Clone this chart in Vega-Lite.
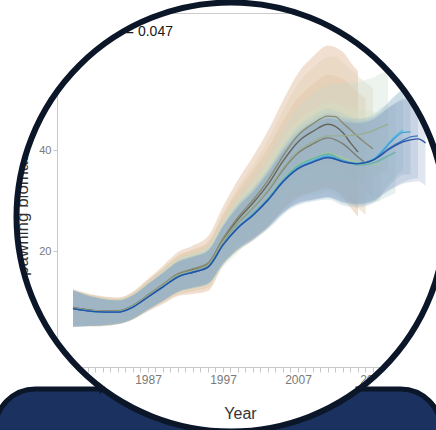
{
  "$schema": "https://vega.github.io/schema/vega-lite/v6.json",
  "width": 379,
  "height": 354,
  "autosize": {"type": "none"},
  "padding": {"left": 57, "top": 13, "right": 0, "bottom": 63},
  "background": "white",
  "config": {
    "view": {"stroke": "#cccccc", "strokeWidth": 1},
    "font": "Liberation Sans Narrow, Liberation Sans, sans-serif"
  },
  "datasets": {
    "ret": [
      {"p":"2015","yr":1977,"v":8.8,"lo":5.2,"hi":12.4},{"p":"2015","yr":1980,"v":8.2,"lo":5.1,"hi":11.3},{"p":"2015","yr":1983,"v":8.1,"lo":5.5,"hi":10.8},{"p":"2015","yr":1985,"v":9.2,"lo":6.4,"hi":12.0},{"p":"2015","yr":1987,"v":11.2,"lo":8.0,"hi":14.5},{"p":"2015","yr":1989,"v":13.3,"lo":9.5,"hi":17.1},{"p":"2015","yr":1991,"v":15.4,"lo":11.1,"hi":19.8},{"p":"2015","yr":1993,"v":16.3,"lo":11.5,"hi":21.1},{"p":"2015","yr":1995,"v":17.5,"lo":12.1,"hi":22.9},{"p":"2015","yr":1997,"v":22.3,"lo":17.1,"hi":28.8},{"p":"2015","yr":1999,"v":26.3,"lo":20.1,"hi":34.1},{"p":"2015","yr":2001,"v":29.5,"lo":22.1,"hi":38.7},{"p":"2015","yr":2003,"v":33.2,"lo":24.7,"hi":43.8},{"p":"2015","yr":2005,"v":37.8,"lo":28.2,"hi":49.8},{"p":"2015","yr":2007,"v":41.6,"lo":30.7,"hi":55.2},{"p":"2015","yr":2009,"v":43.7,"lo":31.9,"hi":58.5},{"p":"2015","yr":2011,"v":45.1,"lo":32.6,"hi":60.7},{"p":"2015","yr":2013,"v":43.4,"lo":30.6,"hi":59.4},{"p":"2015","yr":2014,"v":41.4,"lo":28.6,"hi":57.4},{"p":"2015","yr":2015,"v":39.6,"lo":26.8,"hi":55.6},
      {"p":"2016","yr":1977,"v":8.7,"lo":5.1,"hi":12.3},{"p":"2016","yr":1980,"v":8.1,"lo":5.1,"hi":11.1},{"p":"2016","yr":1983,"v":8.0,"lo":5.5,"hi":10.5},{"p":"2016","yr":1985,"v":9.1,"lo":6.5,"hi":11.7},{"p":"2016","yr":1987,"v":11.1,"lo":8.2,"hi":14.1},{"p":"2016","yr":1989,"v":13.1,"lo":9.8,"hi":16.5},{"p":"2016","yr":1991,"v":15.2,"lo":11.4,"hi":19.0},{"p":"2016","yr":1993,"v":16.1,"lo":12.0,"hi":20.2},{"p":"2016","yr":1995,"v":17.2,"lo":12.7,"hi":21.7},{"p":"2016","yr":1997,"v":21.8,"lo":17.5,"hi":27.1},{"p":"2016","yr":1999,"v":25.6,"lo":20.6,"hi":31.9},{"p":"2016","yr":2001,"v":28.5,"lo":22.6,"hi":35.9},{"p":"2016","yr":2003,"v":31.9,"lo":25.1,"hi":40.4},{"p":"2016","yr":2005,"v":36.1,"lo":28.4,"hi":45.7},{"p":"2016","yr":2007,"v":39.4,"lo":30.7,"hi":50.3},{"p":"2016","yr":2009,"v":41.2,"lo":31.7,"hi":53.0},{"p":"2016","yr":2011,"v":42.4,"lo":32.4,"hi":54.9},{"p":"2016","yr":2013,"v":41.2,"lo":31.0,"hi":54.0},{"p":"2016","yr":2015,"v":38.6,"lo":28.4,"hi":51.4},{"p":"2016","yr":2016,"v":37.4,"lo":27.2,"hi":50.2},
      {"p":"2017","yr":1977,"v":8.9,"lo":5.3,"hi":12.5},{"p":"2017","yr":1980,"v":8.2,"lo":5.3,"hi":11.1},{"p":"2017","yr":1983,"v":8.2,"lo":5.7,"hi":10.7},{"p":"2017","yr":1985,"v":9.2,"lo":6.7,"hi":11.7},{"p":"2017","yr":1987,"v":11.3,"lo":8.4,"hi":14.2},{"p":"2017","yr":1989,"v":13.4,"lo":10.2,"hi":16.6},{"p":"2017","yr":1991,"v":15.5,"lo":11.9,"hi":19.1},{"p":"2017","yr":1993,"v":16.5,"lo":12.6,"hi":20.4},{"p":"2017","yr":1995,"v":17.6,"lo":13.3,"hi":21.9},{"p":"2017","yr":1997,"v":22.5,"lo":18.5,"hi":27.5},{"p":"2017","yr":1999,"v":26.7,"lo":21.9,"hi":32.7},{"p":"2017","yr":2001,"v":30.1,"lo":24.6,"hi":37.0},{"p":"2017","yr":2003,"v":34.0,"lo":27.6,"hi":42.0},{"p":"2017","yr":2005,"v":38.8,"lo":31.6,"hi":47.8},{"p":"2017","yr":2007,"v":42.9,"lo":34.7,"hi":53.1},{"p":"2017","yr":2009,"v":45.2,"lo":36.3,"hi":56.3},{"p":"2017","yr":2011,"v":46.7,"lo":37.3,"hi":58.4},{"p":"2017","yr":2012,"v":46.6,"lo":37.1,"hi":58.5},{"p":"2017","yr":2013,"v":45.3,"lo":35.7,"hi":57.3},{"p":"2017","yr":2014,"v":44.0,"lo":34.4,"hi":56.0},{"p":"2017","yr":2015,"v":42.6,"lo":33.0,"hi":54.6},{"p":"2017","yr":2016,"v":41.4,"lo":31.8,"hi":53.4},{"p":"2017","yr":2017,"v":40.2,"lo":30.6,"hi":52.2},
      {"p":"2018","yr":1977,"v":8.6,"lo":5.0,"hi":12.2},{"p":"2018","yr":1980,"v":8.0,"lo":5.1,"hi":10.9},{"p":"2018","yr":1983,"v":7.9,"lo":5.5,"hi":10.3},{"p":"2018","yr":1985,"v":8.9,"lo":6.5,"hi":11.3},{"p":"2018","yr":1987,"v":10.9,"lo":8.2,"hi":13.6},{"p":"2018","yr":1989,"v":13.0,"lo":10.0,"hi":16.0},{"p":"2018","yr":1991,"v":15.0,"lo":11.7,"hi":18.3},{"p":"2018","yr":1993,"v":15.9,"lo":12.4,"hi":19.4},{"p":"2018","yr":1995,"v":16.9,"lo":13.0,"hi":20.8},{"p":"2018","yr":1997,"v":21.3,"lo":16.8,"hi":25.8},{"p":"2018","yr":1999,"v":24.8,"lo":19.6,"hi":30.0},{"p":"2018","yr":2001,"v":27.4,"lo":23.2,"hi":33.4},{"p":"2018","yr":2003,"v":30.5,"lo":25.7,"hi":37.4},{"p":"2018","yr":2005,"v":34.3,"lo":28.8,"hi":42.1},{"p":"2018","yr":2007,"v":37.0,"lo":30.8,"hi":45.8},{"p":"2018","yr":2009,"v":38.4,"lo":31.7,"hi":48.0},{"p":"2018","yr":2011,"v":39.4,"lo":32.3,"hi":49.5},{"p":"2018","yr":2013,"v":38.4,"lo":31.1,"hi":48.8},{"p":"2018","yr":2015,"v":37.6,"lo":30.3,"hi":48.0},{"p":"2018","yr":2017,"v":37.2,"lo":29.9,"hi":47.6},{"p":"2018","yr":2018,"v":37.0,"lo":29.7,"hi":47.4},
      {"p":"2019","yr":1977,"v":8.7,"lo":5.6,"hi":12.3},{"p":"2019","yr":1980,"v":8.1,"lo":5.7,"hi":11.0},{"p":"2019","yr":1983,"v":8.0,"lo":6.0,"hi":10.4},{"p":"2019","yr":1985,"v":9.1,"lo":7.0,"hi":11.5},{"p":"2019","yr":1987,"v":11.1,"lo":8.8,"hi":13.8},{"p":"2019","yr":1989,"v":13.2,"lo":10.6,"hi":16.2},{"p":"2019","yr":1991,"v":15.2,"lo":12.4,"hi":18.5},{"p":"2019","yr":1993,"v":16.1,"lo":13.1,"hi":19.6},{"p":"2019","yr":1995,"v":17.2,"lo":13.9,"hi":21.1},{"p":"2019","yr":1997,"v":21.9,"lo":18.1,"hi":26.4},{"p":"2019","yr":1999,"v":25.7,"lo":21.3,"hi":30.9},{"p":"2019","yr":2001,"v":28.6,"lo":23.5,"hi":34.6},{"p":"2019","yr":2003,"v":32.1,"lo":26.2,"hi":39.0},{"p":"2019","yr":2005,"v":36.4,"lo":29.8,"hi":44.2},{"p":"2019","yr":2007,"v":39.7,"lo":32.2,"hi":48.5},{"p":"2019","yr":2009,"v":41.6,"lo":33.4,"hi":51.2},{"p":"2019","yr":2011,"v":42.8,"lo":34.2,"hi":52.9},{"p":"2019","yr":2013,"v":42.8,"lo":34.0,"hi":53.2},{"p":"2019","yr":2015,"v":43.0,"lo":34.2,"hi":53.4},{"p":"2019","yr":2016,"v":43.4,"lo":34.5,"hi":53.9},{"p":"2019","yr":2017,"v":43.8,"lo":34.9,"hi":54.3},{"p":"2019","yr":2018,"v":44.5,"lo":35.5,"hi":55.1},{"p":"2019","yr":2019,"v":45.1,"lo":36.0,"hi":55.8},
      {"p":"2020","yr":1977,"v":8.6,"lo":5.0,"hi":12.2},{"p":"2020","yr":1980,"v":8.0,"lo":5.2,"hi":10.8},{"p":"2020","yr":1983,"v":7.9,"lo":5.6,"hi":10.3},{"p":"2020","yr":1985,"v":8.9,"lo":6.5,"hi":11.3},{"p":"2020","yr":1987,"v":10.9,"lo":8.3,"hi":13.5},{"p":"2020","yr":1989,"v":12.9,"lo":10.0,"hi":15.8},{"p":"2020","yr":1991,"v":15.0,"lo":11.9,"hi":18.1},{"p":"2020","yr":1993,"v":15.9,"lo":12.6,"hi":19.2},{"p":"2020","yr":1995,"v":16.9,"lo":13.4,"hi":20.4},{"p":"2020","yr":1997,"v":21.3,"lo":17.3,"hi":25.3},{"p":"2020","yr":1999,"v":24.8,"lo":20.1,"hi":29.5},{"p":"2020","yr":2001,"v":27.4,"lo":22.1,"hi":32.7},{"p":"2020","yr":2003,"v":30.4,"lo":24.3,"hi":36.5},{"p":"2020","yr":2005,"v":34.1,"lo":27.2,"hi":41.0},{"p":"2020","yr":2007,"v":36.9,"lo":30.3,"hi":44.7},{"p":"2020","yr":2009,"v":38.3,"lo":31.1,"hi":46.8},{"p":"2020","yr":2011,"v":39.2,"lo":31.6,"hi":48.2},{"p":"2020","yr":2013,"v":38.0,"lo":30.2,"hi":47.2},{"p":"2020","yr":2015,"v":37.0,"lo":29.2,"hi":46.2},{"p":"2020","yr":2017,"v":37.4,"lo":29.6,"hi":46.6},{"p":"2020","yr":2019,"v":38.8,"lo":30.8,"hi":48.2},{"p":"2020","yr":2020,"v":39.6,"lo":31.5,"hi":49.1},
      {"p":"2021","yr":1977,"v":8.6,"lo":5.0,"hi":12.2},{"p":"2021","yr":1980,"v":8.0,"lo":5.2,"hi":10.8},{"p":"2021","yr":1983,"v":7.9,"lo":5.6,"hi":10.2},{"p":"2021","yr":1985,"v":8.9,"lo":6.6,"hi":11.3},{"p":"2021","yr":1987,"v":10.9,"lo":8.3,"hi":13.5},{"p":"2021","yr":1989,"v":12.9,"lo":10.1,"hi":15.7},{"p":"2021","yr":1991,"v":14.9,"lo":11.9,"hi":18.0},{"p":"2021","yr":1993,"v":15.8,"lo":12.6,"hi":19.0},{"p":"2021","yr":1995,"v":16.8,"lo":13.4,"hi":20.2},{"p":"2021","yr":1997,"v":21.2,"lo":17.3,"hi":25.1},{"p":"2021","yr":1999,"v":24.7,"lo":20.2,"hi":29.2},{"p":"2021","yr":2001,"v":27.2,"lo":22.1,"hi":32.3},{"p":"2021","yr":2003,"v":30.2,"lo":24.4,"hi":36.0},{"p":"2021","yr":2005,"v":33.9,"lo":27.3,"hi":40.5},{"p":"2021","yr":2007,"v":36.5,"lo":29.0,"hi":44.0},{"p":"2021","yr":2009,"v":37.9,"lo":29.8,"hi":46.0},{"p":"2021","yr":2011,"v":38.8,"lo":30.2,"hi":47.4},{"p":"2021","yr":2013,"v":37.8,"lo":29.0,"hi":46.6},{"p":"2021","yr":2015,"v":37.4,"lo":28.6,"hi":46.2},{"p":"2021","yr":2017,"v":38.2,"lo":29.4,"hi":47.0},{"p":"2021","yr":2018,"v":39.5,"lo":30.8,"hi":48.2},{"p":"2021","yr":2019,"v":41.2,"lo":33.2,"hi":49.2},{"p":"2021","yr":2020,"v":42.8,"lo":34.8,"hi":50.8},{"p":"2021","yr":2021,"v":44.0,"lo":36.0,"hi":52.0},
      {"p":"2022","yr":1977,"v":8.6,"lo":5.0,"hi":12.2},{"p":"2022","yr":1980,"v":8.0,"lo":5.2,"hi":10.8},{"p":"2022","yr":1983,"v":7.9,"lo":5.6,"hi":10.2},{"p":"2022","yr":1985,"v":8.9,"lo":6.6,"hi":11.2},{"p":"2022","yr":1987,"v":10.9,"lo":8.4,"hi":13.4},{"p":"2022","yr":1989,"v":12.9,"lo":10.2,"hi":15.7},{"p":"2022","yr":1991,"v":14.9,"lo":11.9,"hi":17.9},{"p":"2022","yr":1993,"v":15.8,"lo":12.7,"hi":18.9},{"p":"2022","yr":1995,"v":16.8,"lo":13.5,"hi":20.1},{"p":"2022","yr":1997,"v":21.2,"lo":17.5,"hi":24.9},{"p":"2022","yr":1999,"v":24.7,"lo":20.4,"hi":29.0},{"p":"2022","yr":2001,"v":27.2,"lo":22.4,"hi":32.0},{"p":"2022","yr":2003,"v":30.2,"lo":24.6,"hi":35.8},{"p":"2022","yr":2005,"v":33.8,"lo":27.5,"hi":40.1},{"p":"2022","yr":2007,"v":36.4,"lo":29.3,"hi":43.5},{"p":"2022","yr":2009,"v":37.8,"lo":30.0,"hi":45.6},{"p":"2022","yr":2011,"v":38.7,"lo":30.5,"hi":46.9},{"p":"2022","yr":2013,"v":37.8,"lo":29.4,"hi":46.2},{"p":"2022","yr":2015,"v":37.3,"lo":28.9,"hi":45.7},{"p":"2022","yr":2017,"v":38.0,"lo":29.6,"hi":46.4},{"p":"2022","yr":2018,"v":39.3,"lo":30.9,"hi":47.7},{"p":"2022","yr":2019,"v":41.0,"lo":32.6,"hi":49.4},{"p":"2022","yr":2020,"v":42.5,"lo":34.1,"hi":50.9},{"p":"2022","yr":2021,"v":43.5,"lo":35.1,"hi":51.9},{"p":"2022","yr":2022,"v":43.6,"lo":35.2,"hi":52.0},
      {"p":"2023","yr":1977,"v":8.6,"lo":5.0,"hi":12.2},{"p":"2023","yr":1980,"v":8.0,"lo":5.2,"hi":10.8},{"p":"2023","yr":1983,"v":7.9,"lo":5.6,"hi":10.2},{"p":"2023","yr":1985,"v":8.9,"lo":6.6,"hi":11.2},{"p":"2023","yr":1987,"v":10.9,"lo":8.4,"hi":13.4},{"p":"2023","yr":1989,"v":12.9,"lo":10.2,"hi":15.6},{"p":"2023","yr":1991,"v":14.9,"lo":12.0,"hi":17.8},{"p":"2023","yr":1993,"v":15.8,"lo":12.8,"hi":18.8},{"p":"2023","yr":1995,"v":16.8,"lo":13.6,"hi":20.0},{"p":"2023","yr":1997,"v":21.2,"lo":17.6,"hi":24.8},{"p":"2023","yr":1999,"v":24.6,"lo":20.5,"hi":28.7},{"p":"2023","yr":2001,"v":27.1,"lo":22.5,"hi":31.7},{"p":"2023","yr":2003,"v":30.1,"lo":24.8,"hi":35.4},{"p":"2023","yr":2005,"v":33.7,"lo":27.7,"hi":39.7},{"p":"2023","yr":2007,"v":36.3,"lo":29.5,"hi":43.1},{"p":"2023","yr":2009,"v":37.6,"lo":30.2,"hi":45.0},{"p":"2023","yr":2011,"v":38.5,"lo":30.7,"hi":46.3},{"p":"2023","yr":2013,"v":37.7,"lo":29.7,"hi":45.7},{"p":"2023","yr":2015,"v":37.3,"lo":29.3,"hi":45.3},{"p":"2023","yr":2017,"v":38.0,"lo":30.0,"hi":46.0},{"p":"2023","yr":2019,"v":40.2,"lo":32.0,"hi":48.4},{"p":"2023","yr":2021,"v":41.9,"lo":33.6,"hi":50.2},{"p":"2023","yr":2022,"v":42.6,"lo":34.2,"hi":51.0},{"p":"2023","yr":2023,"v":42.8,"lo":34.4,"hi":51.2},
      {"p":"2024","yr":1977,"v":8.6,"lo":5.0,"hi":12.2},{"p":"2024","yr":1980,"v":8.0,"lo":5.2,"hi":10.8},{"p":"2024","yr":1983,"v":7.9,"lo":5.6,"hi":10.2},{"p":"2024","yr":1985,"v":8.9,"lo":6.6,"hi":11.2},{"p":"2024","yr":1987,"v":10.9,"lo":8.4,"hi":13.4},{"p":"2024","yr":1989,"v":12.9,"lo":10.2,"hi":15.6},{"p":"2024","yr":1991,"v":14.9,"lo":12.0,"hi":17.8},{"p":"2024","yr":1993,"v":15.8,"lo":12.8,"hi":18.8},{"p":"2024","yr":1995,"v":16.8,"lo":13.6,"hi":20.0},{"p":"2024","yr":1997,"v":21.2,"lo":17.6,"hi":24.8},{"p":"2024","yr":1999,"v":24.6,"lo":20.5,"hi":28.7},{"p":"2024","yr":2001,"v":27.1,"lo":22.5,"hi":31.7},{"p":"2024","yr":2003,"v":30.1,"lo":24.8,"hi":35.4},{"p":"2024","yr":2005,"v":33.7,"lo":27.7,"hi":39.7},{"p":"2024","yr":2007,"v":36.3,"lo":29.5,"hi":43.1},{"p":"2024","yr":2009,"v":37.6,"lo":30.2,"hi":45.0},{"p":"2024","yr":2011,"v":38.5,"lo":30.7,"hi":46.3},{"p":"2024","yr":2012,"v":38.2,"lo":30.3,"hi":46.1},{"p":"2024","yr":2013,"v":37.7,"lo":29.7,"hi":45.7},{"p":"2024","yr":2014,"v":37.4,"lo":29.4,"hi":45.4},{"p":"2024","yr":2015,"v":37.3,"lo":29.3,"hi":45.3},{"p":"2024","yr":2016,"v":37.5,"lo":29.5,"hi":45.5},{"p":"2024","yr":2017,"v":38.0,"lo":30.0,"hi":46.0},{"p":"2024","yr":2018,"v":38.9,"lo":30.8,"hi":47.0},{"p":"2024","yr":2019,"v":40.0,"lo":31.8,"hi":48.2},{"p":"2024","yr":2020,"v":40.9,"lo":32.6,"hi":49.2},{"p":"2024","yr":2021,"v":41.6,"lo":33.3,"hi":49.9},{"p":"2024","yr":2022,"v":42.0,"lo":33.6,"hi":50.4},{"p":"2024","yr":2023,"v":42.2,"lo":33.8,"hi":50.6},{"p":"2024","yr":2024,"v":41.4,"lo":32.9,"hi":49.9}
    ]
  },
  "layer": [
    {
      "data": {"name": "ret"},
      "mark": {"type": "area", "interpolate": "monotone"},
      "encoding": {
        "x": {
          "field": "yr", "type": "quantitative",
          "scale": {"domain": [1974.867, 2025.4], "nice": false, "zero": false},
          "axis": {
            "title": "Year",
            "values": [1975,1976,1977,1978,1979,1980,1981,1982,1983,1984,1985,1986,1987,1988,1989,1990,1991,1992,1993,1994,1995,1996,1997,1998,1999,2000,2001,2002,2003,2004,2005,2006,2007,2008,2009,2010,2011,2012,2013,2014,2015,2016,2017,2018,2019,2020,2021,2022,2023,2024,2025],
            "tickCount": 200,
            "format": "d",
            "labelExpr": "(datum.value - 1977) % 10 == 0 ? datum.label : ''",
            "grid": false,
            "domainColor": "#c8c8c8",
            "tickColor": "#c8c8c8",
            "tickSize": 5,
            "labelColor": "#7a7a7a",
            "labelFontSize": 12,
            "labelPadding": 2,
            "labelFlush": false,
            "labelOverlap": false,
            "titleFontSize": 16,
            "titleFontWeight": "normal",
            "titleColor": "#333333",
            "titleX": 183,
            "titleY": 46,
            "titleBaseline": "middle"
          }
        },
        "y": {
          "field": "lo", "type": "quantitative",
          "scale": {"domain": [-2.97, 67.13], "nice": false, "zero": false},
          "axis": {
            "title": "Spawning biomass (t)",
            "values": [0, 20, 40, 60],
            "grid": false,
            "domainColor": "#c8c8c8",
            "tickColor": "#c8c8c8",
            "tickSize": 4,
            "labelColor": "#7a7a7a",
            "labelFontSize": 11,
            "labelPadding": 2,
            "titleFont": "Liberation Sans, sans-serif",
            "titleFontSize": 17,
            "titleFontWeight": "normal",
            "titleColor": "#333333",
            "titleAngle": -90,
            "titleAlign": "center",
            "titleBaseline": "middle",
            "titleX": -35,
            "titleY": 192
          }
        },
        "y2": {"field": "hi"},
        "fill": {
          "field": "p", "type": "nominal", "legend": null,
          "scale": {
            "domain": ["2015","2016","2017","2018","2019","2020","2021","2022","2023","2024"],
            "range": ["#d7a57a","#ddb993","#ddc9aa","#d5e2c4","#c4dcca","#aaccca","#9fc0cc","#95b2c9","#8ea7c6","#86a0c2"]
          }
        },
        "fillOpacity": {
          "field": "p", "type": "nominal", "legend": null,
          "scale": {
            "domain": ["2015","2016","2017","2018","2019","2020","2021","2022","2023","2024"],
            "range": [0.34, 0.26, 0.24, 0.22, 0.2, 0.16, 0.15, 0.14, 0.14, 0.2]
          }
        }
      }
    },
    {
      "data": {"name": "ret"},
      "mark": {"type": "line", "interpolate": "monotone", "strokeWidth": 1.4},
      "encoding": {
        "x": {"field": "yr", "type": "quantitative"},
        "y": {"field": "v", "type": "quantitative"},
        "stroke": {
          "field": "p", "type": "nominal", "legend": null,
          "scale": {
            "domain": ["2015","2016","2017","2018","2019","2020","2021","2022","2023","2024"],
            "range": ["#66665c","#7a7d70","#8a8b72","#a7c898","#9aae90","#69b2a8","#58bde0","#3ea0d6","#3a7cc4","#2a52a3"]
          }
        }
      }
    },
    {
      "data": {"values": [{}]},
      "mark": {"type": "text", "align": "right", "baseline": "alphabetic", "fontSize": 14, "color": "#1a1a1a"},
      "encoding": {
        "x": {"datum": 1990.33, "type": "quantitative"},
        "y": {"datum": 62.57, "type": "quantitative"},
        "text": {"value": "Mohn's rho = 0.047"}
      }
    },
    {
      "data": {"values": [{}]},
      "mark": {"type": "point", "shape": "circle", "filled": false, "stroke": "#ffffff", "strokeWidth": 130, "size": 312481, "opacity": 1},
      "encoding": {
        "x": {"datum": 1998.067, "type": "quantitative"},
        "y": {"datum": 26.733, "type": "quantitative"}
      }
    },
    {
      "data": {"values": [{}]},
      "mark": {"type": "rect", "fill": "#1b3260", "stroke": "#0b1628", "strokeWidth": 5, "cornerRadiusTopLeft": 50},
      "encoding": {
        "x": {"datum": 1966.6, "type": "quantitative"},
        "x2": {"datum": 1980.87},
        "y": {"datum": -7.327, "type": "quantitative"},
        "y2": {"datum": -23.37}
      }
    },
    {
      "data": {"values": [{}]},
      "mark": {"type": "rect", "fill": "#1b3260", "stroke": "#0b1628", "strokeWidth": 5, "cornerRadiusTopRight": 50},
      "encoding": {
        "x": {"datum": 2015.0, "type": "quantitative"},
        "x2": {"datum": 2026.07},
        "y": {"datum": -7.327, "type": "quantitative"},
        "y2": {"datum": -23.37}
      }
    },
    {
      "data": {"values": [{}]},
      "mark": {"type": "arc", "theta": 2.5045, "theta2": 3.7787, "radius": 300, "radius2": 213, "fill": "#1b3260"},
      "encoding": {
        "x": {"datum": 1998.067, "type": "quantitative"},
        "y": {"datum": 26.733, "type": "quantitative"}
      }
    },
    {
      "data": {"values": [{}]},
      "mark": {"type": "point", "shape": "circle", "filled": false, "stroke": "#0b1628", "strokeWidth": 6, "size": 184041, "opacity": 1},
      "encoding": {
        "x": {"datum": 1998.067, "type": "quantitative"},
        "y": {"datum": 26.733, "type": "quantitative"}
      }
    }
  ]
}
